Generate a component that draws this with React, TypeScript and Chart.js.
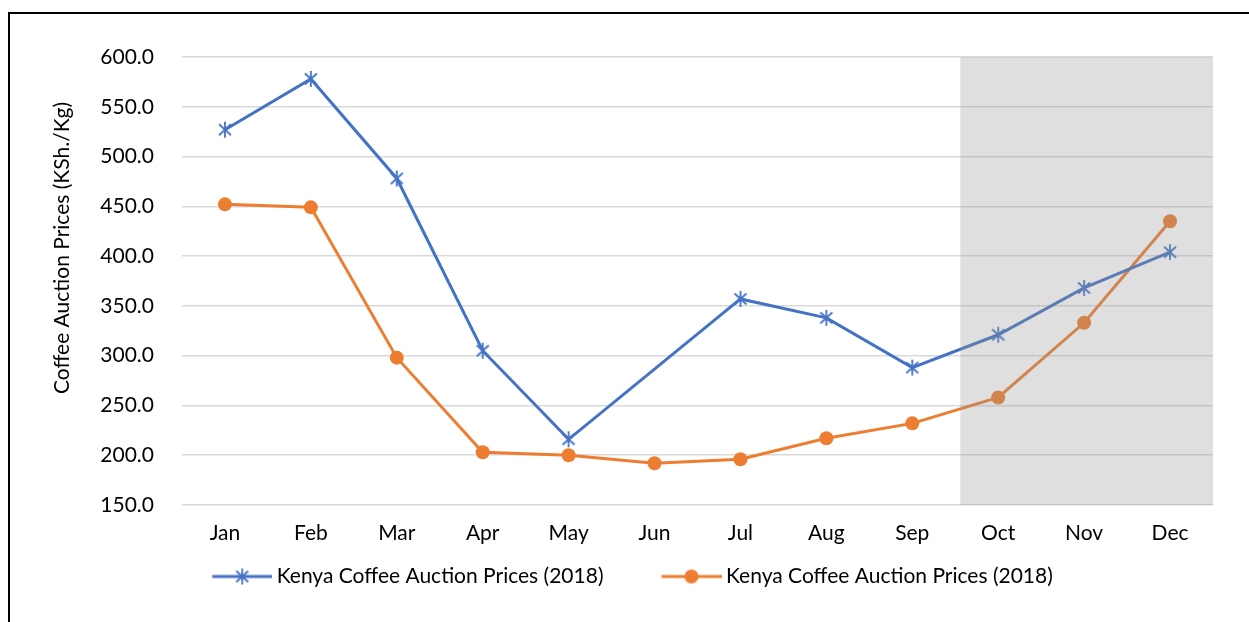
import React, { useEffect, useRef } from 'react';
import { Chart, registerables } from 'chart.js';

Chart.register(...registerables);

const MONTHS = ['Jan', 'Feb', 'Mar', 'Apr', 'May', 'Jun', 'Jul', 'Aug', 'Sep', 'Oct', 'Nov', 'Dec'];
const STAR_SERIES = [527, 578, 478, 305, 216, null, 357, 338, 288, 321, 368, 404];
const DOT_SERIES = [452, 449, 298, 203, 200, 192, 196, 217, 232, 258, 333, 435];
const SERIES_LABELS = ['Kenya Coffee Auction Prices (2018)', 'Kenya Coffee Auction Prices (2018)'];
const Y_TITLE = 'Coffee Auction Prices (KSh./Kg)';
const Y_MIN = 150;
const Y_MAX = 600;
const Y_STEP = 50;
const SHADE_FROM = 'Oct';

const BLUE = '#4472C4';
const ORANGE = '#ED7D31';
const FONT = 'Lato, "Open Sans", sans-serif';
const FS = 21;
const LEG_W = 92;
const LEG_IMG_W = 104;

function makeStar(color: string) {
  const c = document.createElement('canvas');
  c.width = 18;
  c.height = 18;
  const x = c.getContext('2d')!;
  x.strokeStyle = color;
  x.lineWidth = 1.8;
  x.beginPath();
  x.moveTo(3, 3.5); x.lineTo(15, 14.5);
  x.moveTo(15, 3.5); x.lineTo(3, 14.5);
  x.moveTo(9, 1); x.lineTo(9, 17);
  x.stroke();
  return c;
}

function makeLegendImg(color: string, kind: 'star' | 'dot') {
  const c = document.createElement('canvas');
  const w = LEG_IMG_W;
  c.width = w;
  c.height = 18;
  const x = c.getContext('2d')!;
  x.strokeStyle = color;
  x.lineWidth = 3;
  x.beginPath();
  x.moveTo(w - 60, 9);
  x.lineTo(w, 9);
  x.stroke();
  const cx = w - 30;
  if (kind === 'dot') {
    x.fillStyle = color;
    x.beginPath();
    x.arc(cx, 9, 7, 0, Math.PI * 2);
    x.fill();
  } else {
    x.lineWidth = 1.8;
    x.beginPath();
    x.moveTo(cx - 6, 3.5); x.lineTo(cx + 6, 14.5);
    x.moveTo(cx + 6, 3.5); x.lineTo(cx - 6, 14.5);
    x.moveTo(cx, 1); x.lineTo(cx, 17);
    x.stroke();
  }
  return c;
}

const shadePlugin = {
  id: 'shade',
  afterDatasetsDraw(chart: any) {
    const { ctx, chartArea, scales } = chart;
    const idx = MONTHS.indexOf(SHADE_FROM);
    const a = scales.x.getPixelForValue(idx - 1);
    const b = scales.x.getPixelForValue(idx);
    const x0 = a + (b - a) * 0.56;
    ctx.save();
    ctx.fillStyle = 'rgba(150,150,150,0.3)';
    ctx.fillRect(x0, chartArea.top, chartArea.right - x0, chartArea.bottom - chartArea.top);
    ctx.restore();
  },
};

const yTitlePlugin = {
  id: 'ytitle',
  afterDraw(chart: any) {
    const { ctx } = chart;
    ctx.save();
    ctx.translate(62, 248);
    ctx.rotate(-Math.PI / 2);
    ctx.fillStyle = '#000';
    ctx.font = `${FS}px ${FONT}`;
    ctx.textAlign = 'center';
    ctx.textBaseline = 'middle';
    ctx.fillText(Y_TITLE, 0, 0);
    ctx.restore();
  },
};

export default function App() {
  const ref = useRef<HTMLCanvasElement>(null);
  useEffect(() => {
    const star = makeStar(BLUE);
    const legImgs = [makeLegendImg(BLUE, 'star'), makeLegendImg(ORANGE, 'dot')];
    const colors = [BLUE, ORANGE];
    const chart = new Chart(ref.current!, {
      type: 'line',
      data: {
        labels: MONTHS,
        datasets: [
          {
            label: SERIES_LABELS[0],
            data: STAR_SERIES,
            borderColor: BLUE,
            backgroundColor: BLUE,
            borderWidth: 3,
            pointStyle: star as any,
            pointRadius: 7,
            tension: 0,
            spanGaps: true,
          },
          {
            label: SERIES_LABELS[1],
            data: DOT_SERIES,
            borderColor: ORANGE,
            backgroundColor: ORANGE,
            borderWidth: 3,
            pointStyle: 'circle',
            pointRadius: 7,
            pointBorderWidth: 0,
            tension: 0,
          },
        ],
      },
      options: {
        animation: false,
        responsive: false,
        maintainAspectRatio: false,
        layout: { padding: { left: 14, right: 36, top: 57, bottom: 25 } },
        plugins: {
          tooltip: { enabled: false },
          legend: {
            position: 'bottom',
            labels: {
              usePointStyle: true,
              pointStyleWidth: LEG_W,
              padding: 20,
              color: '#000',
              font: { family: FONT, size: FS },
              generateLabels: (ch: any) =>
                ch.data.datasets.map((d: any, i: number) => ({
                  text: d.label,
                  datasetIndex: i,
                  pointStyle: legImgs[i],
                  fillStyle: colors[i],
                  strokeStyle: colors[i],
                  lineWidth: 0,
                  hidden: false,
                  fontColor: '#000',
                })),
            },
          },
        },
        scales: {
          x: {
            offset: true,
            grid: { display: false, drawTicks: false },
            border: { display: false },
            ticks: { color: '#000', font: { family: FONT, size: FS }, padding: 16 },
            afterFit: (s: any) => { s.height = 41; },
          },
          y: {
            min: Y_MIN,
            max: Y_MAX,
            grid: { color: '#d9d9d9', lineWidth: 1.5, drawTicks: false },
            border: { display: false },
            ticks: {
              stepSize: Y_STEP,
              padding: 28,
              color: '#000',
              font: { family: FONT, size: FS },
              callback: (v: any) => Number(v).toFixed(1),
            },
            afterFit: (s: any) => { s.width = 168; },
          },
        },
      },
      plugins: [shadePlugin, yTitlePlugin],
    });
    return () => chart.destroy();
  }, []);

  return (
    <div style={{ position: 'fixed', left: 0, top: 0, width: 1249, height: 622, overflow: 'hidden', background: '#fff' }}>
      <div style={{ position: 'absolute', left: 8, top: 12, width: 1400, height: 800, border: '2px solid #000', boxSizing: 'border-box' }} />
      <canvas ref={ref} width={1249} height={622} style={{ position: 'absolute', left: 0, top: 0, width: 1249, height: 622 }} />
    </div>
  );
}
